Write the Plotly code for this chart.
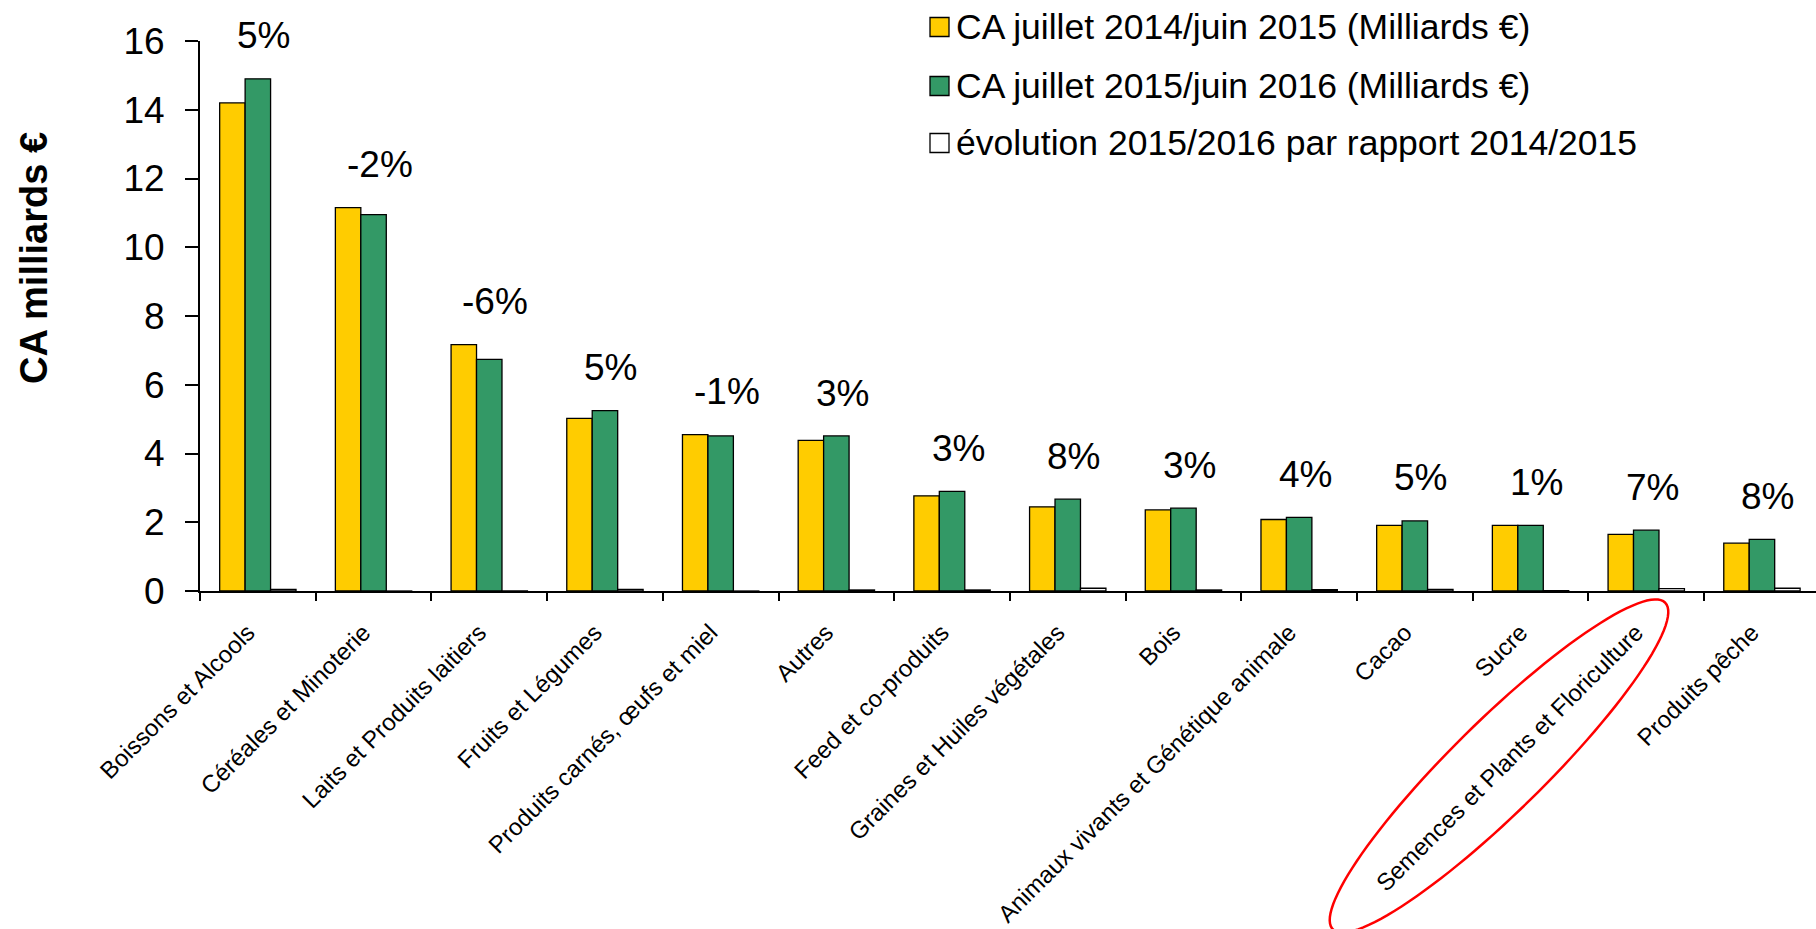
import numpy as np
import plotly.graph_objects as go

# ---------------- data ----------------
categories = [
    "Boissons et Alcools", "Céréales et Minoterie", "Laits et Produits laitiers",
    "Fruits et Légumes", "Produits carnés, œufs et miel", "Autres",
    "Feed et co-produits", "Graines et Huiles végétales", "Bois",
    "Animaux vivants et Génétique animale", "Cacao", "Sucre",
    "Semences et Plants et Floriculture", "Produits pêche",
]
ca_2014_2015 = [14.2, 11.15, 7.17, 5.02, 4.55, 4.38, 2.77, 2.45, 2.36, 2.08, 1.91, 1.91, 1.65, 1.39]
ca_2015_2016 = [14.9, 10.95, 6.74, 5.25, 4.51, 4.51, 2.90, 2.67, 2.41, 2.14, 2.04, 1.91, 1.77, 1.50]
evolution = [0.05, -0.02, -0.06, 0.05, -0.01, 0.03, 0.03, 0.08, 0.03, 0.04, 0.05, 0.01, 0.07, 0.08]
series_names = [
    "CA juillet 2014/juin 2015 (Milliards €)",
    "CA juillet 2015/juin 2016 (Milliards €)",
    "évolution 2015/2016 par rapport 2014/2015",
]
y_title = "CA milliards €"
y_max = 16

# ---------------- styling / geometry ----------------
W, H = 1816, 929
L, T, BOTTOM = 200, 41, 591
PW, PH = W - L, BOTTOM - T
FONT = "Liberation Sans, Arial, Helvetica, sans-serif"
colors = ["#FFCC00", "#339966", "#FFFFFF"]
cat_px = 115.7


def paper_x(px):
    return (px - L) / PW


def paper_y(py):
    return (BOTTOM - py) / PH


fig = go.Figure()
for name, vals, col in zip(series_names, [ca_2014_2015, ca_2015_2016, evolution], colors):
    fig.add_trace(go.Bar(
        x=categories, y=vals, name=name,
        marker=dict(color=col, line=dict(color="black", width=1.3)),
        showlegend=False,
    ))

annotations = []
# percentage labels above each group
for c, a, b, e in zip(categories, ca_2014_2015, ca_2015_2016, evolution):
    annotations.append(dict(
        x=c, y=(max(a, b) + 1.25) / y_max, xref="x", yref="y domain",
        text=f"{round(e * 100):d}%", showarrow=False,
        xanchor="center", yanchor="middle", xshift=6,
        font=dict(family=FONT, size=37, color="black"),
    ))

# custom legend
shapes = []
legend_rows = [27, 86, 143]
for name, col, ry in zip(series_names, colors, legend_rows):
    shapes.append(dict(
        type="rect", xref="paper", yref="paper",
        x0=paper_x(930), x1=paper_x(949), y0=paper_y(ry + 9.5), y1=paper_y(ry - 9.5),
        fillcolor=col, line=dict(color="black", width=1.3),
    ))
    annotations.append(dict(
        x=paper_x(954), y=paper_y(ry), xref="paper", yref="paper",
        text=name, showarrow=False, xanchor="left", yanchor="middle",
        font=dict(family=FONT, size=35.5, color="black"),
    ))

# y-axis title
annotations.append(dict(
    x=paper_x(34), y=paper_y(258), xref="paper", yref="paper",
    text=f"<b>{y_title}</b>", textangle=-90, showarrow=False,
    xanchor="center", yanchor="middle",
    font=dict(family=FONT, size=38, color="black"),
))

# red ellipse highlighting a category label
cx, cy, ra, rb, th = 1499, 766, 233, 46, np.deg2rad(44.5)
t = np.linspace(0, 2 * np.pi, 120)
ex, ey = ra * np.cos(t), rb * np.sin(t)
xs = cx + ex * np.cos(th) + ey * np.sin(th)
ys = cy - ex * np.sin(th) + ey * np.cos(th)
path = "M " + " L ".join(f"{paper_x(x):.5f},{paper_y(y):.5f}" for x, y in zip(xs, ys)) + " Z"
shapes.append(dict(type="path", xref="paper", yref="paper", path=path,
                   line=dict(color="#FF0000", width=2.5)))

fig.update_layout(
    width=W, height=H,
    margin=dict(l=L, r=0, t=T, b=H - BOTTOM, pad=0),
    paper_bgcolor="white", plot_bgcolor="white",
    barmode="group", bargap=0.34, bargroupgap=0,
    font=dict(family=FONT, color="black"),
    annotations=annotations, shapes=shapes,
    showlegend=False,
)
fig.update_xaxes(
    range=[-0.5, -0.5 + PW / cat_px],
    showline=True, linecolor="black", linewidth=2,
    ticks="outside", ticklen=8, tickwidth=1.5, tickcolor="black",
    tickson="boundaries", tickangle=-45,
    ticklabelstandoff=16, ticklabelshift=-10,
    tickfont=dict(family=FONT, size=24, color="black"),
    showgrid=False, zeroline=False, automargin=False,
)
fig.update_yaxes(
    range=[0, y_max], dtick=2,
    showline=True, linecolor="black", linewidth=2,
    ticks="outside", ticklen=13, tickwidth=1.5, tickcolor="black",
    tickfont=dict(family=FONT, size=37, color="black"),
    ticklabelstandoff=13,
    showgrid=False, zeroline=False, automargin=False,
)

fig.write_html("out.html", config={"displayModeBar": False},
               post_script="document.body.style.margin='0px';")
